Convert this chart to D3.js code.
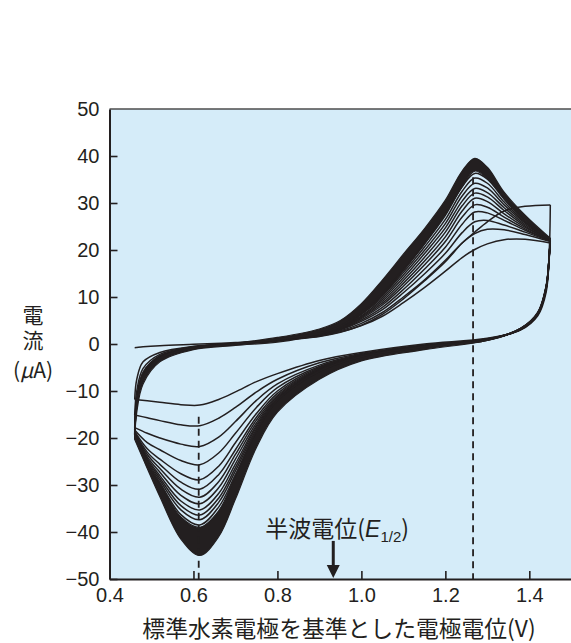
<!DOCTYPE html>
<meta charset="utf-8">
<html>
<head>
<style>
    body {
        margin: 0;
        background: #fff;
    }
    svg text {
        fill: #231f20;
    }
    .axis text {
        font-family: 'Liberation Sans', Arial, sans-serif;
        font-size: 20px;
        fill: #231f20;
    }
    .axis path,
    .axis line {
        stroke: #231f20;
    }
    .axis path {
        stroke-width: 2;
    }
    .axis line {
        stroke-width: 1.6;
    }
    .jp {
        font-family: 'Noto Sans CJK JP', sans-serif;
        font-size: 22px;
    }
    .cv {
        fill: none;
        stroke: #231f20;
        stroke-width: 1.5;
    }
</style>
</head>
<body>
<svg id="chart"></svg>

<script src="https://cdn.jsdelivr.net/npm/d3@7/dist/d3.min.js"></script>
<script>

    // potential grid (V) for the forward (oxidation) and reverse (reduction) sweep
    var VA = [0.46, 0.465, 0.48, 0.52, 0.6, 0.7, 0.8, 0.9, 0.95, 1.0, 1.05, 1.1, 1.15, 1.2, 1.24, 1.27, 1.3, 1.34, 1.39, 1.45];
    var VC = [1.45, 1.448, 1.44, 1.42, 1.38, 1.3, 1.15, 1.0, 0.9, 0.8, 0.75, 0.7, 0.66, 0.615, 0.57, 0.52, 0.49, 0.46];

    // current (uA) of the first 12 cycles, forward sweep
    var anodic = [
        [-0.8, -0.75, -0.6, -0.35, -0.05, 0.3, 0.8, 1.7, 2.6, 4.0, 6.3, 9.6, 13.4, 17.5, 21.5, 23.8, 26.0, 28.3, 29.3, 29.6],
        [-11.8, -7.5, -3.8, -1.8, -0.5, 0.1, 0.7, 1.6, 2.5, 3.9, 5.9, 8.8, 12.0, 15.5, 18.4, 20.1, 21.3, 22.2, 22.3, 21.5],
        [-15.1, -10.0, -5.2, -2.2, -0.6, 0.1, 0.8, 1.8, 2.8, 4.4, 6.7, 10.0, 13.6, 17.8, 21.5, 23.5, 24.4, 24.3, 23.3, 21.8],
        [-17.8, -11.5, -6.0, -2.5, -0.7, 0.1, 0.8, 1.9, 3.0, 4.8, 7.3, 10.9, 14.9, 19.3, 23.7, 26.0, 26.3, 25.3, 23.8, 21.9],
        [-18.3, -12.0, -6.3, -2.6, -0.7, 0.1, 0.9, 2.0, 3.1, 5.1, 7.8, 11.6, 15.9, 20.6, 25.5, 28.1, 27.9, 26.3, 24.2, 22.0],
        [-18.6, -12.3, -6.5, -2.7, -0.8, 0.1, 0.9, 2.0, 3.2, 5.4, 8.3, 12.3, 16.8, 21.8, 27.0, 29.6, 29.1, 27.0, 24.5, 22.0],
        [-18.8, -12.5, -6.7, -2.8, -0.8, 0.0, 0.9, 2.1, 3.3, 5.6, 8.7, 12.9, 17.6, 22.8, 28.3, 31.0, 30.3, 27.7, 24.8, 22.1],
        [-19.0, -12.7, -6.8, -2.9, -0.8, 0.0, 0.9, 2.1, 3.4, 5.8, 9.1, 13.5, 18.4, 23.8, 29.4, 32.1, 31.3, 28.4, 25.1, 22.1],
        [-19.1, -12.8, -6.9, -2.9, -0.8, 0.0, 1.0, 2.2, 3.5, 6.0, 9.5, 14.1, 19.2, 24.7, 30.4, 33.1, 32.2, 29.0, 25.4, 22.2],
        [-19.2, -12.9, -7.0, -3.0, -0.9, 0.0, 1.0, 2.2, 3.6, 6.3, 9.9, 14.7, 19.9, 25.6, 31.5, 34.2, 33.2, 29.6, 25.7, 22.2],
        [-19.3, -13.0, -7.1, -3.0, -0.9, 0.0, 1.0, 2.3, 3.7, 6.5, 10.3, 15.2, 20.6, 26.5, 32.5, 35.3, 34.2, 30.2, 25.9, 22.3],
        [-19.4, -13.1, -7.2, -3.1, -0.9, 0.0, 1.0, 2.3, 3.8, 6.8, 10.7, 15.8, 21.3, 27.4, 33.5, 36.3, 35.1, 30.8, 26.1, 22.3]
    ];

    // current (uA) of the first 12 cycles, reverse sweep
    var cathodic = [
        [29.6, 21.0, 11.0, 6.0, 3.0, 1.2, 0.0, -1.8, -3.5, -6.3, -8.0, -10.2, -11.8, -13.0, -12.9, -12.4, -12.1, -11.8],
        [21.5, 19.0, 11.5, 6.2, 3.1, 1.1, -0.2, -2.0, -4.0, -7.5, -10.2, -13.5, -15.8, -17.4, -17.2, -16.3, -15.7, -15.1],
        [21.8, 19.2, 11.7, 6.3, 3.1, 1.0, -0.3, -2.2, -4.5, -8.5, -12.0, -16.5, -19.8, -21.8, -21.3, -20.0, -19.0, -17.8],
        [21.9, 19.3, 11.8, 6.3, 3.1, 1.0, -0.3, -2.3, -4.8, -9.3, -13.5, -19.0, -23.2, -25.7, -24.8, -22.5, -21.0, -18.3],
        [22.0, 19.4, 11.9, 6.4, 3.2, 1.0, -0.4, -2.4, -5.0, -10.0, -14.8, -21.0, -26.0, -28.9, -27.6, -24.5, -22.3, -18.6],
        [22.0, 19.4, 11.9, 6.4, 3.2, 0.9, -0.4, -2.4, -5.2, -10.5, -15.6, -22.5, -27.8, -30.9, -29.4, -25.6, -23.0, -18.8],
        [22.1, 19.5, 12.0, 6.4, 3.2, 0.9, -0.5, -2.5, -5.3, -10.9, -16.2, -23.5, -29.3, -32.6, -30.9, -26.5, -23.5, -19.0],
        [22.1, 19.5, 12.0, 6.5, 3.2, 0.9, -0.5, -2.5, -5.4, -11.2, -16.8, -24.5, -30.6, -34.0, -32.2, -27.3, -24.0, -19.1],
        [22.2, 19.6, 12.0, 6.5, 3.3, 0.9, -0.5, -2.6, -5.5, -11.5, -17.3, -25.5, -31.8, -35.3, -33.4, -28.0, -24.4, -19.2],
        [22.2, 19.6, 12.1, 6.5, 3.3, 0.9, -0.6, -2.6, -5.6, -11.7, -17.7, -26.3, -32.8, -36.4, -34.4, -28.5, -24.7, -19.3],
        [22.3, 19.7, 12.1, 6.5, 3.3, 0.8, -0.6, -2.7, -5.7, -11.9, -18.1, -27.0, -33.7, -37.4, -35.3, -29.0, -25.0, -19.4],
        [22.3, 19.7, 12.1, 6.6, 3.3, 0.8, -0.6, -2.7, -5.8, -12.0, -18.5, -27.8, -34.7, -38.5, -36.3, -29.5, -25.3, -19.5]
    ];

    // later cycles pile up into a solid band: inner and outer edge of it
    var bandAnodicIn  = [-20.3, -14.5, -8.5, -3.8, -1.2, -0.3, 0.4, 2.0, 3.4, 6.3, 10.3, 15.6, 21.2, 27.6, 33.4, 36.8, 35.2, 31.0, 26.2, 21.9];
    var bandAnodicOut = [-19.5, -12.8, -7.0, -2.9, -0.8, 0.2, 1.4, 3.2, 5.0, 8.6, 13.6, 19.1, 24.5, 30.6, 36.8, 39.5, 37.6, 32.3, 27.4, 22.5];
    var bandCathodicIn  = [21.9, 19.7, 12.2, 6.6, 3.3, 0.8, -0.6, -2.7, -5.8, -12.0, -18.6, -28.0, -35.5, -39.0, -36.8, -29.6, -25.4, -19.5];
    var bandCathodicOut = [22.5, 20.0, 12.5, 6.8, 3.4, 0.8, -1.2, -3.6, -7.5, -14.5, -22.0, -33.0, -41.0, -45.0, -41.5, -32.5, -26.5, -20.3];

    // peak potentials (dashed) and the half-wave potential arrow
    var peakV = [0.6125, 1.266];
    var peakI = [-15.5, 35.5];
    var halfWaveV = 0.933;
    var arrowI = [-41.9, -47.0, -49.8];

    var xTicks = [0.4, 0.6, 0.8, 1.0, 1.2, 1.4];
    var yTicks = [-50, -40, -30, -20, -10, 0, 10, 20, 30, 40, 50];

    var W = 571, H = 643;
    var ink = "#231f20";

    var svg = d3.select("#chart")
        .attr("width", W)
        .attr("height", H);

    var x = d3.scaleLinear().domain([0.4, 1.5]).range([109.5, 571.3]);
    var y = d3.scaleLinear().domain([-50, 50]).range([579, 109]);

    // plot background
    svg.append("rect")
        .attr("x", x(0.4))
        .attr("y", y(50))
        .attr("width", x(1.5) - x(0.4))
        .attr("height", y(-50) - y(50))
        .attr("fill", "#d5ecf9");

    svg.append("line")
        .attr("x1", x(0.4)).attr("x2", x(1.5))
        .attr("y1", y(50)).attr("y2", y(50))
        .attr("stroke", "#4d4d4d")
        .attr("stroke-width", 1.5);

    var curve = d3.curveCatmullRom.alpha(0.5);

    // solid bands
    var bandA = d3.area()
        .x(function (d, i) { return x(VA[i]); })
        .y0(function (d) { return y(d[0]); })
        .y1(function (d) { return y(d[1]); })
        .curve(curve);
    var bandC = d3.area()
        .x(function (d, i) { return x(VC[i]); })
        .y0(function (d) { return y(d[0]); })
        .y1(function (d) { return y(d[1]); })
        .curve(curve);

    svg.append("path")
        .datum(d3.zip(bandAnodicIn, bandAnodicOut))
        .attr("d", bandA)
        .attr("fill", ink)
        .attr("stroke", ink)
        .attr("stroke-width", 1.2);
    svg.append("path")
        .datum(d3.zip(bandCathodicIn, bandCathodicOut))
        .attr("d", bandC)
        .attr("fill", ink)
        .attr("stroke", ink)
        .attr("stroke-width", 1.2);

    // single cycles
    var lineA = d3.line()
        .x(function (d, i) { return x(VA[i]); })
        .y(function (d) { return y(d); })
        .curve(curve);
    var lineC = d3.line()
        .x(function (d, i) { return x(VC[i]); })
        .y(function (d) { return y(d); })
        .curve(curve);

    svg.selectAll("path.fwd")
        .data(anodic)
        .enter()
        .append("path")
        .attr("class", "cv fwd")
        .attr("d", lineA);
    svg.selectAll("path.rev")
        .data(cathodic)
        .enter()
        .append("path")
        .attr("class", "cv rev")
        .attr("d", lineC);

    // dashed peak markers
    svg.selectAll("line.peak")
        .data(peakV)
        .enter()
        .append("line")
        .attr("class", "peak")
        .attr("x1", function (d) { return x(d); })
        .attr("x2", function (d) { return x(d); })
        .attr("y1", function (d, i) { return y(peakI[i]); })
        .attr("y2", y(-50))
        .attr("stroke", ink)
        .attr("stroke-width", 1.8)
        .attr("stroke-dasharray", "7,5");

    // axes
    var yAxis = svg.append("g")
        .attr("class", "axis")
        .attr("transform", "translate(" + x(0.4) + ",0)")
        .call(d3.axisLeft(y).tickValues(yTicks).tickSize(-8).tickSizeOuter(0).tickPadding(10));
    yAxis.selectAll(".tick").filter(function (d) { return d == 50; }).select("line").remove();

    var xAxis = svg.append("g")
        .attr("class", "axis")
        .attr("transform", "translate(0," + y(-50) + ")")
        .call(d3.axisBottom(x).tickValues(xTicks).tickFormat(d3.format(".1f")).tickSize(-8).tickSizeOuter(0).tickPadding(9));
    xAxis.selectAll(".tick").filter(function (d) { return d == 0.4; }).select("line").remove();

    // half-wave potential arrow
    var ax = x(halfWaveV);
    svg.append("line")
        .attr("x1", ax).attr("x2", ax)
        .attr("y1", y(arrowI[0])).attr("y2", y(arrowI[1]) + 1)
        .attr("stroke", ink)
        .attr("stroke-width", 3);
    svg.append("path")
        .attr("d", "M" + (ax - 6.5) + "," + y(arrowI[1]) + "L" + (ax + 6.5) + "," + y(arrowI[1]) + "L" + ax + "," + y(arrowI[2]) + "Z")
        .attr("fill", ink);

    var lab = svg.append("text")
        .attr("class", "jp")
        .attr("x", x(0.771))
        .attr("y", y(-41.1))
        .style("font-size", "23px");
    lab.append("tspan").text("半波電位(");
    lab.append("tspan").text("E").attr("font-style", "italic").attr("font-family", "'Liberation Sans', sans-serif");
    lab.append("tspan").text("1/2").attr("font-size", "15px").attr("dy", 5).attr("font-family", "'Liberation Sans', sans-serif");
    lab.append("tspan").text(")").attr("dy", -5);

    // axis titles
    svg.append("text")
        .attr("class", "jp")
        .attr("x", 339)
        .attr("y", 637)
        .attr("text-anchor", "middle")
        .style("font-size", "22.8px")
        .text("標準水素電極を基準とした電極電位(V)");

    // "電流" written top to bottom, unit below it
    svg.append("text")
        .attr("class", "jp")
        .attr("x", 33)
        .attr("y", 305)
        .attr("writing-mode", "vertical-rl")
        .style("font-size", "21px")
        .style("letter-spacing", "4px")
        .text("電流");

    var unit = svg.append("text")
        .attr("class", "jp")
        .attr("x", 33)
        .attr("y", 378)
        .attr("text-anchor", "middle")
        .style("font-size", "21px");
    unit.append("tspan").text("(");
    unit.append("tspan").text("μ").attr("font-style", "italic");
    unit.append("tspan").text("A)");

</script>
</body>
</html>
